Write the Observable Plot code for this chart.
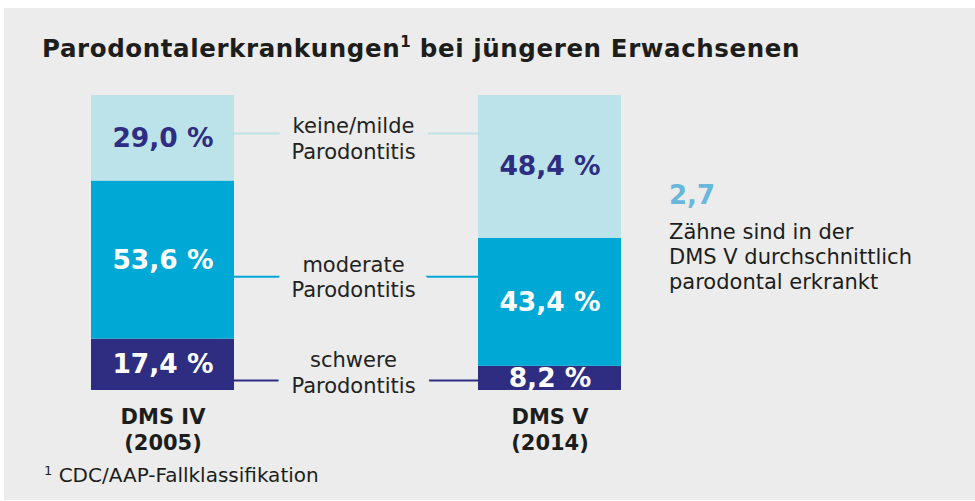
<!DOCTYPE html>
<html><head><meta charset="utf-8">
<script src="https://cdn.jsdelivr.net/npm/d3@7"></script>
<script src="https://cdn.jsdelivr.net/npm/@observablehq/plot@0.6"></script>
<style>
html,body{margin:0;padding:0;background:#fff;}
body{width:975px;height:501px;position:relative;overflow:hidden;font-family:"DejaVu Sans",Verdana,sans-serif;color:#1d1d1b;}
#panel{position:absolute;left:4px;top:8px;width:971px;height:492px;background:#ebeceb;}
#title{position:absolute;left:42px;top:34px;font-size:24.5px;line-height:30px;font-weight:bold;white-space:nowrap;letter-spacing:0.6px;}
#title .sup{font-size:15px;position:relative;top:-10px;letter-spacing:0;}
#chart{position:absolute;left:0;top:80px;}
#stat{position:absolute;left:669px;top:180px;font-size:26px;line-height:30px;font-weight:bold;color:#6ab7dc;}
#desc{position:absolute;left:669px;top:220px;font-size:21px;line-height:25px;white-space:nowrap;}
#note{position:absolute;left:44px;top:463px;font-size:20px;line-height:24px;white-space:nowrap;}
#note .sup{font-size:13px;position:relative;top:-7px;}
</style></head><body>
<div id="panel"></div>
<div id="title">Parodontalerkrankungen<span class="sup">1</span> bei jüngeren Erwachsenen</div>
<div id="chart"></div>
<div id="stat"></div>
<div id="desc"></div>
<div id="note"><span class="sup">1</span> CDC/AAP-Fallklassifikation</div>
<script>
// ---- data ----
const surveys = ["DMS IV", "DMS V"];
const years = ["2005", "2014"];
const classes = ["schwere Parodontitis", "moderate Parodontitis", "keine/milde Parodontitis"];
const classLabels = ["schwere\nParodontitis", "moderate\nParodontitis", "keine/milde\nParodontitis"];
const dmsIV = [17.4, 53.6, 29.0];
const dmsV = [8.2, 43.4, 48.4];
const avgTeeth = 2.7;
const avgTeethText = ["Zähne sind in der", "DMS V durchschnittlich", "parodontal erkrankt"];

// ---- styling / annotation layout ----
const colors = ["#2e2d82", "#00a9d5", "#bde3ea"];
const valueTextColors = ["#ffffff", "#ffffff", "#2e2d82"];
const connectorAt = [3.4, 38.6, 87.1];   // y (in %) of connector lines
const connectorLabelAt = [6.3, 38.6, 85.6];
const bg = "#ebeceb";

const series = [dmsIV, dmsV];
const rows = surveys.flatMap((s, i) => classes.map((c, j) => ({survey: s, cls: c, value: series[i][j], j})));
const annot = classes.map((c, j) => ({cls: c, line: connectorAt[j], label: connectorLabelAt[j], text: classLabels[j]}));
const fmt = v => v.toFixed(1).replace(".", ",") + " %";

const labelOpts = {y: "label", text: "text", frameAnchor: "middle", dx: -3, fontSize: 21, lineHeight: 1.2};

const chart = Plot.plot({
  width: 975,
  height: 380,
  marginLeft: 91,
  marginRight: 354,
  marginTop: 15,
  marginBottom: 70,
  style: {fontFamily: "DejaVu Sans", background: "transparent", overflow: "visible"},
  x: {domain: surveys, paddingInner: 0.6305, paddingOuter: 0},
  y: {domain: [0, 100], axis: null},
  color: {domain: classes, range: colors},
  marks: [
    Plot.ruleY(annot, {y: "line", stroke: "cls", strokeWidth: 2}),
    // background halo that interrupts the connector lines
    Plot.text(annot, {...labelOpts, fill: bg, stroke: bg, strokeWidth: 30, strokeLinejoin: "round"}),
    Plot.text(annot, {...labelOpts, fill: "#222222"}),
    Plot.barY(rows, {x: "survey", y: "value", fill: "cls"}),
    Plot.text(rows, Plot.stackY({
      x: "survey", y: "value", text: d => fmt(d.value),
      fill: d => valueTextColors[d.j], fontSize: 26.5, fontWeight: "bold"
    })),
    Plot.axisX({
      tickSize: 0, tickPadding: 16, fontSize: 21, fontWeight: "bold", lineHeight: 1.2,
      tickFormat: d => `${d}\n(${years[surveys.indexOf(d)]})`, label: null, color: "#1d1d1b"
    })
  ]
});
document.getElementById("chart").appendChild(chart);
document.getElementById("stat").textContent = avgTeeth.toFixed(1).replace(".", ",");
document.getElementById("desc").innerHTML = avgTeethText.join("<br>");
</script>
</body></html>
